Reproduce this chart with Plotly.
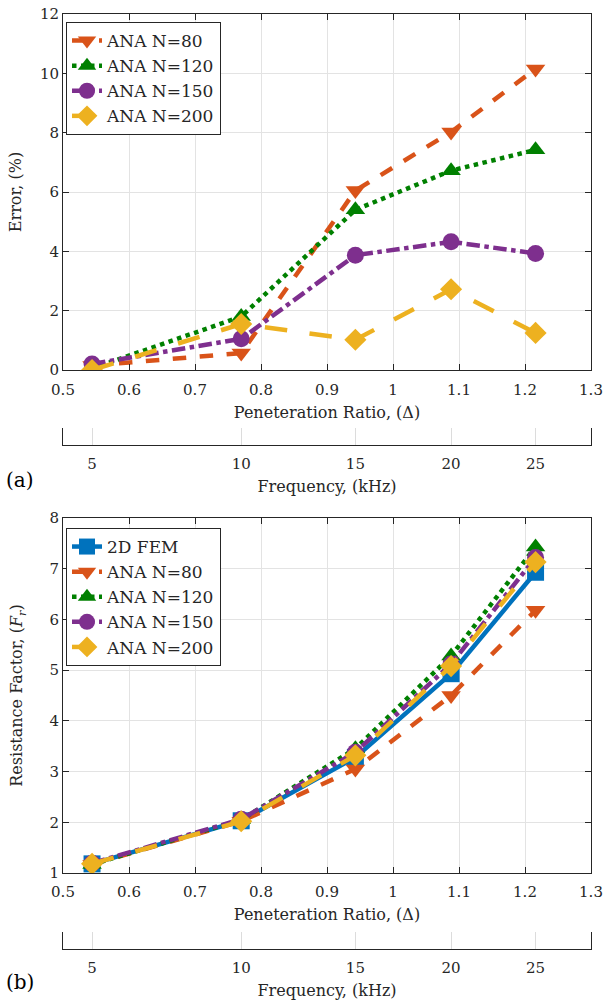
import plotly.graph_objects as go

# ---- data ----
delta = [0.544, 0.770, 0.943, 1.088, 1.216]          # penetration ratio of each case
freq_ticks = [5, 10, 15, 20, 25]                      # frequency (kHz) of each case

err_n80 = [0.15, 0.57, 6.05, 8.02, 10.15]
err_n120 = [0.05, 1.80, 5.40, 6.72, 7.42]
err_n150 = [0.20, 1.05, 3.87, 4.32, 3.93]
err_n200 = [0.00, 1.55, 1.02, 2.72, 1.25]

fr_fem = [1.18, 2.03, 3.28, 4.93, 6.93]
fr_n80 = [1.17, 2.02, 3.05, 4.50, 6.18]
fr_n120 = [1.17, 2.05, 3.45, 5.28, 7.43]
fr_n150 = [1.19, 2.06, 3.38, 5.12, 7.22]
fr_n200 = [1.18, 2.02, 3.32, 5.08, 7.13]

x_ticks = [0.5, 0.6, 0.7, 0.8, 0.9, 1.0, 1.1, 1.2, 1.3]
x_ticktext = ["0.5", "0.6", "0.7", "0.8", "0.9", "1", "1.1", "1.2", "1.3"]

BLUE = "#0072BD"
ORANGE = "#D95319"
GREEN = "#008000"
PURPLE = "#7E2F8E"
YELLOW = "#EDB120"

FONT = "DejaVu Serif, serif"
W, H = 603, 1007


def px_x(p):
    return p / W


def px_y(p):
    return 1 - p / H


series_top = [
    ("ANA N=80", err_n80, ORANGE, "dash", "triangle-down"),
    ("ANA N=120", err_n120, GREEN, "dot", "triangle-up"),
    ("ANA N=150", err_n150, PURPLE, "dashdot", "circle"),
    ("ANA N=200", err_n200, YELLOW, "longdash", "diamond"),
]
series_bot = [
    ("2D FEM", fr_fem, BLUE, "solid", "square"),
    ("ANA N=80", fr_n80, ORANGE, "dash", "triangle-down"),
    ("ANA N=120", fr_n120, GREEN, "dot", "triangle-up"),
    ("ANA N=150", fr_n150, PURPLE, "dashdot", "circle"),
    ("ANA N=200", fr_n200, YELLOW, "longdash", "diamond"),
]

fig = go.Figure()
for name, ys, col, dash, sym in series_top:
    fig.add_trace(go.Scatter(
        x=delta, y=ys, name=name, mode="lines+markers",
        line=dict(color=col, width=4.5, dash=dash),
        marker=dict(symbol=sym, size=17, color=col, line=dict(width=0)),
        xaxis="x", yaxis="y", legend="legend"))
for name, ys, col, dash, sym in series_bot:
    fig.add_trace(go.Scatter(
        x=delta, y=ys, name=name, mode="lines+markers",
        line=dict(color=col, width=4.5, dash=dash),
        marker=dict(symbol=sym, size=17, color=col, line=dict(width=0)),
        xaxis="x2", yaxis="y2", legend="legend2"))

# invisible traces to hold the frequency axes
for xa, ya in (("x3", "y3"), ("x4", "y4")):
    fig.add_trace(go.Scatter(x=delta, y=[0.5] * len(delta), mode="markers",
                             marker=dict(opacity=0), showlegend=False,
                             hoverinfo="skip", xaxis=xa, yaxis=ya))

xdom = [px_x(63), px_x(591)]
axis_common = dict(showline=True, linecolor="#262626", linewidth=1, mirror="allticks",
                   ticks="inside", ticklen=6, tickcolor="#262626", automargin=False,
                   showgrid=True, gridcolor="#e3e3e3", gridwidth=1, zeroline=False,
                   tickfont=dict(family=FONT, size=15, color="#262626"))

title_font = dict(family=FONT, size=16, color="#262626")

fig.update_layout(
    width=W, height=H, margin=dict(l=0, r=0, t=0, b=0),
    paper_bgcolor="white", plot_bgcolor="white", showlegend=True,
    xaxis=dict(domain=xdom, anchor="y", range=[0.5, 1.3], tickvals=x_ticks, ticktext=x_ticktext,
               ticklabelstandoff=6,
               title=dict(text="Peneteration Ratio, (Δ)", font=title_font, standoff=8), **axis_common),
    yaxis=dict(domain=[px_y(370), px_y(14)], anchor="x", range=[0, 12], dtick=2,
               title=dict(text="Error, (%)", font=title_font, standoff=14), **axis_common),
    xaxis2=dict(domain=xdom, anchor="y2", range=[0.5, 1.3], tickvals=x_ticks, ticktext=x_ticktext,
                ticklabelstandoff=5,
                title=dict(text="Peneteration Ratio, (Δ)", font=title_font, standoff=8), **axis_common),
    yaxis2=dict(domain=[px_y(873), px_y(518)], anchor="x2", range=[1, 8], dtick=1,
                title=dict(text="Resistance Factor, (<i>F</i><sub><i>r</i></sub>)", font=title_font,
                           standoff=22), **axis_common),
)

freq_axis = dict(range=[0.5, 1.3], tickvals=delta, ticktext=[str(f) for f in freq_ticks],
                 showline=True, linecolor="#262626", linewidth=1, ticks="outside", ticklen=5,
                 tickcolor="rgba(0,0,0,0)", showgrid=True, gridcolor="#dcdcdc", zeroline=False,
                 automargin=False,
                 tickfont=dict(family=FONT, size=15, color="#262626"), domain=xdom)
freq_y = dict(range=[0, 1], showline=True, linecolor="#262626", linewidth=1, mirror=True,
              showticklabels=False, ticks="", showgrid=False, zeroline=False, automargin=False)

fig.update_layout(
    xaxis3=dict(anchor="y3", title=dict(text="Frequency, (kHz)", font=title_font, standoff=8), **freq_axis),
    yaxis3=dict(domain=[px_y(445), px_y(428)], anchor="x3", **freq_y),
    xaxis4=dict(anchor="y4", title=dict(text="Frequency, (kHz)", font=title_font, standoff=8), **freq_axis),
    yaxis4=dict(domain=[px_y(949), px_y(932)], anchor="x4", **freq_y),
)

legend_common = dict(bgcolor="white", bordercolor="#262626", borderwidth=1,
                     font=dict(family=FONT, size=17, color="#262626"),
                     xanchor="left", yanchor="top", tracegroupgap=0, itemwidth=30)
fig.update_layout(
    legend=dict(x=px_x(66), y=px_y(22), **legend_common),
    legend2=dict(x=px_x(66), y=px_y(528), **legend_common),
)

fig.add_annotation(text="(a)", x=px_x(4), y=px_y(480), xref="paper", yref="paper",
                   xanchor="left", yanchor="middle", showarrow=False,
                   font=dict(family="DejaVu Serif, serif", size=20, color="black"))
fig.add_annotation(text="(b)", x=px_x(4), y=px_y(982), xref="paper", yref="paper",
                   xanchor="left", yanchor="middle", showarrow=False,
                   font=dict(family="DejaVu Serif, serif", size=20, color="black"))

fig.write_html("out.html", config={"displayModeBar": False},
               post_script="document.body.style.margin='0';")
